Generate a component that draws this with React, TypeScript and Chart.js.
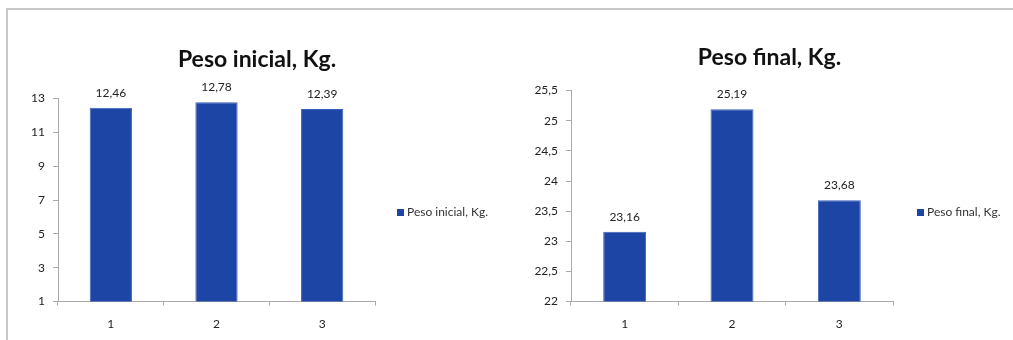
import React, { useEffect, useRef } from "react";
import { Chart, registerables } from "chart.js";

Chart.register(...registerables);

const categories = ["1", "2", "3"];
const pesoInicial = [12.46, 12.78, 12.39];
const pesoFinal = [23.16, 25.19, 23.68];
const titleInicial = "Peso inicial, Kg.";
const titleFinal = "Peso final, Kg.";

const FONT = "Lato, 'Open Sans', sans-serif";
const BAR = "#1d45a6";

const fmt = (v: number) => String(v).replace(".", ",");

const valueLabels = {
  id: "valueLabels",
  afterDatasetsDraw(chart: any) {
    const ctx = chart.ctx;
    ctx.save();
    ctx.font = `12px ${FONT}`;
    ctx.fillStyle = "#222";
    ctx.textAlign = "center";
    ctx.textBaseline = "middle";
    chart.data.datasets.forEach((ds: any, i: number) => {
      const meta = chart.getDatasetMeta(i);
      meta.data.forEach((bar: any, j: number) => {
        ctx.fillText(fmt(ds.data[j]), bar.x, bar.y - 15);
      });
    });
    ctx.restore();
  },
};

function makeConfig(
  title: string,
  data: number[],
  min: number,
  max: number,
  step: number,
  leftW: number,
  rightW: number,
  titlePad: any
): any {
  return {
    type: "bar",
    data: {
      labels: categories,
      datasets: [
        {
          label: title,
          data,
          backgroundColor: BAR,
          borderColor: "#3b62bb",
          borderWidth: 1,
          barPercentage: 0.4,
          categoryPercentage: 1,
        },
      ],
    },
    options: {
      animation: false,
      responsive: false,
      maintainAspectRatio: false,
      layout: { padding: { top: 0, right: 0, bottom: 2, left: 0 } },
      plugins: {
        title: {
          display: true,
          text: title,
          font: { family: FONT, size: 23, weight: "bold" },
          color: "#111",
          padding: titlePad,
        },
        legend: { display: false },
        tooltip: { enabled: false },
      },
      scales: {
        x: {
          grid: {
            display: true,
            drawOnChartArea: false,
            drawTicks: true,
            tickLength: 4,
            offset: true,
            color: "#aaa",
          },
          border: { color: "#aaa" },
          ticks: { font: { family: FONT, size: 12 }, color: "#222", padding: 11 },
        },
        y: {
          min,
          max,
          afterFit: (s: any) => {
            s.width = leftW;
          },
          grid: {
            display: true,
            drawOnChartArea: false,
            drawTicks: true,
            tickLength: 5,
            color: "#aaa",
          },
          border: { color: "#aaa" },
          ticks: {
            stepSize: step,
            font: { family: FONT, size: 12 },
            color: "#222",
            padding: 8,
            callback: (v: any) => fmt(Number(v)),
          },
        },
        spacer: {
          type: "linear",
          position: "right",
          afterFit: (s: any) => {
            s.width = rightW;
          },
          grid: { display: false, drawTicks: false },
          border: { display: false },
          ticks: { display: false },
        },
      },
    },
    plugins: [valueLabels],
  };
}

function BarChart(props: {
  title: string;
  data: number[];
  min: number;
  max: number;
  step: number;
  width: number;
  height: number;
  leftW: number;
  rightW: number;
  titlePad: any;
  style: React.CSSProperties;
}) {
  const ref = useRef<HTMLCanvasElement>(null);
  useEffect(() => {
    const chart = new Chart(
      ref.current as HTMLCanvasElement,
      makeConfig(
        props.title,
        props.data,
        props.min,
        props.max,
        props.step,
        props.leftW,
        props.rightW,
        props.titlePad
      )
    );
    return () => chart.destroy();
  }, []);
  return (
    <canvas
      ref={ref}
      width={props.width}
      height={props.height}
      style={{ position: "absolute", width: props.width, height: props.height, ...props.style }}
    />
  );
}

function Legend(props: { label: string; left: number; top: number }) {
  return (
    <div
      style={{
        position: "absolute",
        left: props.left,
        top: props.top,
        display: "flex",
        alignItems: "center",
        fontFamily: FONT,
        fontSize: 12,
        color: "#333",
        whiteSpace: "nowrap",
        lineHeight: "14px",
      }}
    >
      <span
        style={{
          display: "inline-block",
          width: 7,
          height: 7,
          background: BAR,
          marginRight: 3,
        }}
      />
      {props.label}
    </div>
  );
}

export default function App() {
  return (
    <div
      style={{
        position: "fixed",
        left: 0,
        top: 0,
        width: 1013,
        height: 340,
        background: "#fff",
        overflow: "hidden",
      }}
    >
      <div
        style={{
          position: "absolute",
          left: 6,
          top: 8,
          width: 1013,
          height: 340,
          borderTop: "2px solid #c8c8c8",
          borderLeft: "2px solid #c8c8c8",
        }}
      />
      <BarChart
        title={titleInicial}
        data={pesoInicial}
        min={1}
        max={13}
        step={2}
        width={498}
        height={335}
        leftW={50}
        rightW={131}
        titlePad={{ top: 37, bottom: 25 }}
        style={{ left: 8, top: 9 }}
      />
      <Legend label={titleInicial} left={397} top={205} />
      <BarChart
        title={titleFinal}
        data={pesoFinal}
        min={22}
        max={25.5}
        step={0.5}
        width={539}
        height={335}
        leftW={71}
        rightW={146}
        titlePad={{ top: 35, bottom: 19 }}
        style={{ left: 500, top: 9 }}
      />
      <Legend label={titleFinal} left={917} top={205} />
    </div>
  );
}
